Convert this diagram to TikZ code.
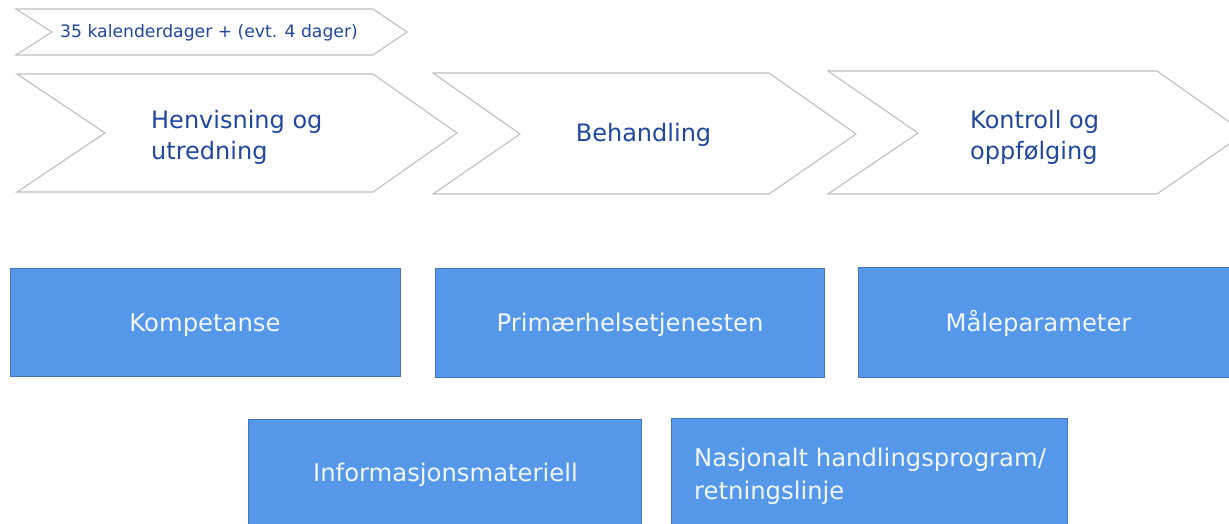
\documentclass[tikz,border=0pt]{standalone}
\usepackage{fontspec}
\setmainfont{DejaVu Sans}
\definecolor{chevline}{RGB}{192,192,192}
\definecolor{chevtext}{RGB}{32,72,158}
\definecolor{boxfill}{RGB}{85,152,234}
\definecolor{boxline}{RGB}{68,118,190}
\definecolor{boxtext}{RGB}{242,246,255}
\tikzset{
  chevron/.style={draw=chevline, line width=1.1pt, fill=white, line join=miter},
  chevlabel/.style={text=chevtext, inner sep=0pt, font=\fontsize{24}{30.7}\selectfont, align=left},
  topmark/.style={text=chevtext, inner sep=0pt, font=\fontsize{17.2}{20}\selectfont},
  bluebox/.style={draw=boxline, line width=1pt, fill=boxfill, inner sep=0pt},
  boxlabel/.style={text=boxtext, inner sep=0pt, font=\fontsize{24.3}{33}\selectfont, align=left},
}
\begin{document}
\begin{tikzpicture}[x=1pt,y=-1pt]
\useasboundingbox (0,0) rectangle (1229,523);
\clip (0,0) rectangle (1229,523);
\fill[white] (0,0) rectangle (1229,523);

% time span banner
\draw[chevron] (16,9) -- (373,9) -- (407,32) -- (373,55) -- (16,55) -- (52,32) -- cycle;
\node[topmark, anchor=base] (span) at (209,37.5) {35 kalenderdager + (evt. 4 dager)};

% process chevrons
\draw[chevron] (17,74) -- (373,74) -- (457,133) -- (373,192) -- (17,192) -- (105,133) -- cycle;
\draw[chevron] (433,73) -- (769,73) -- (856,134) -- (769,194) -- (433,194) -- (520,134) -- cycle;
\draw[chevron] (828,71) -- (1157,71) -- (1245,133) -- (1157,194) -- (828,194) -- (918,133) -- cycle;

% labels (base anchor sits on the last line)
\node[chevlabel, anchor=base west] (p1) at (151,159) {Henvisning og\\utredning};
\node[chevlabel, anchor=base] (p2) at (643.5,141) {Behandling};
\node[chevlabel, anchor=base west] (p3) at (970,159) {Kontroll og\\oppfølging};

% topic boxes
\path[bluebox] (10,268) rectangle (400,376);
\node[boxlabel, anchor=base] (k) at (205,331) {Kompetanse};
\path[bluebox] (435,268) rectangle (824,377);
\node[boxlabel, anchor=base] (ph) at (630,331) {Primærhelsetjenesten};
\path[bluebox] (858,267) rectangle (1250,377);
\node[boxlabel, anchor=base] (mp) at (1038.5,331) {Måleparameter};
\path[bluebox] (248,419) rectangle (641,527);
\node[boxlabel, anchor=base] (im) at (445.5,481.7) {Informasjonsmateriell};
\path[bluebox] (671,418) rectangle (1067,527);
\node[boxlabel, anchor=base west] (nh) at (694,499) {Nasjonalt handlingsprogram/\\retningslinje};
\end{tikzpicture}
\end{document}
